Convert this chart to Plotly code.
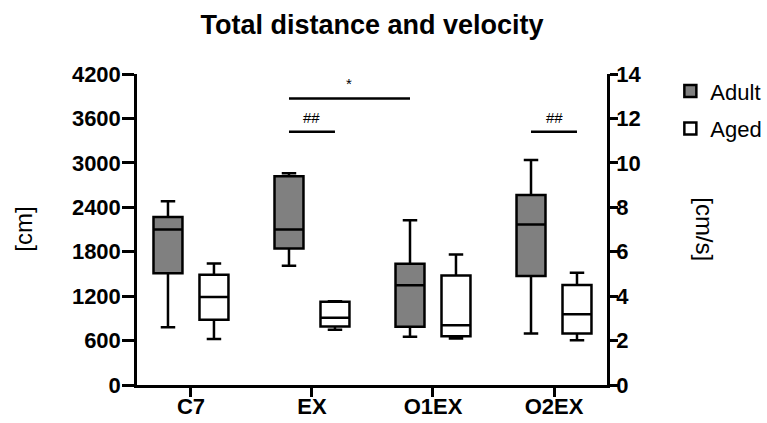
import plotly.graph_objects as go

# ---- data (distance, cm) ----
categories = ["C7", "EX", "O1EX", "O2EX"]
adult_low = [780, 1610, 650, 696]
adult_q1 = [1510, 1845, 785, 1471]
adult_med = [2100, 2100, 1346, 2167]
adult_q3 = [2270, 2820, 1638, 2567]
adult_high = [2480, 2860, 2224, 3038]

aged_low = [620, 746, 628, 606]
aged_q1 = [880, 790, 660, 696]
aged_med = [1190, 907, 808, 956]
aged_q3 = [1490, 1125, 1480, 1350]
aged_high = [1640, 1131, 1763, 1517]

left_ticks = [0, 600, 1200, 1800, 2400, 3000, 3600, 4200]
right_ticks = [0, 2, 4, 6, 8, 10, 12, 14]

# significance brackets: (from category, from group, to category, to group, y, label)
sig_brackets = [
    ("EX", 0, "O1EX", 0, 3870, "*"),
    ("EX", 0, "EX", 1, 3420, "##"),
    ("O2EX", 0, "O2EX", 1, 3420, "##"),
]

FONT = "Liberation Sans, Arial, sans-serif"
BOXGAP = 0.24
BOXGROUPGAP = 0.37
LW = 2.5

fig = go.Figure()
fig.add_trace(go.Box(
    name="Adult", x=categories, q1=adult_q1, median=adult_med, q3=adult_q3,
    lowerfence=adult_low, upperfence=adult_high, boxpoints=False,
    fillcolor="#808080", line=dict(color="black", width=LW), whiskerwidth=0.5,
    legendgroup="a", hoverinfo="skip",
))
fig.add_trace(go.Box(
    name="Aged", x=categories, q1=aged_q1, median=aged_med, q3=aged_q3,
    lowerfence=aged_low, upperfence=aged_high, boxpoints=False,
    fillcolor="white", line=dict(color="black", width=LW), whiskerwidth=0.5,
    legendgroup="b", hoverinfo="skip",
))
# empty trace so the velocity axis (right) is drawn
fig.add_trace(go.Scatter(x=[], y=[], yaxis="y2", showlegend=False, hoverinfo="skip"))

offset = 0.25 * (1 - BOXGAP)
def xpos(cat, grp):
    return categories.index(cat) + (-offset if grp == 0 else offset)

shapes = []
annotations = []
for c0, g0, c1, g1, yv, lab in sig_brackets:
    x0, x1 = xpos(c0, g0), xpos(c1, g1)
    shapes.append(dict(type="line", xref="x", yref="y", x0=x0, x1=x1, y0=yv, y1=yv,
                       line=dict(color="black", width=2.5)))
    annotations.append(dict(x=(x0 + x1) / 2, y=yv, xref="x", yref="y", text=lab,
                            showarrow=False, yanchor="bottom", yshift=4,
                            font=dict(family=FONT, size=15, color="black")))

annotations.append(dict(text="[cm]", xref="paper", yref="paper", x=-0.242, y=0.5,
                        textangle=-90, showarrow=False, xanchor="center", yanchor="middle",
                        font=dict(family=FONT, size=24, color="black")))
annotations.append(dict(text="[cm/s]", xref="paper", yref="paper", x=1.207, y=0.5,
                        textangle=90, showarrow=False, xanchor="center", yanchor="middle",
                        font=dict(family=FONT, size=24, color="black")))

axis_common = dict(showline=True, linecolor="black", linewidth=2.5, ticks="outside",
                   tickcolor="black", tickwidth=2.5, showgrid=False, zeroline=False,
                   automargin=False,
                   tickfont=dict(family=FONT, size=22, color="black", weight="bold"))

fig.update_layout(
    width=767, height=423,
    margin=dict(l=137, r=160, t=74, b=38),
    paper_bgcolor="white", plot_bgcolor="white",
    boxmode="group", boxgap=BOXGAP, boxgroupgap=BOXGROUPGAP,
    title=dict(text="Total distance and velocity", x=0.5, xref="paper", xanchor="center",
               y=0.942, yanchor="middle",
               font=dict(family=FONT, size=27, color="black", weight="bold")),
    xaxis=dict(**axis_common, range=[-0.446, 3.438], ticklen=9, ticklabelstandoff=-9),
    yaxis=dict(**axis_common, range=[0, 4200], tickvals=left_ticks, ticklen=12,
               ticklabelstandoff=-3),
    yaxis2=dict(**axis_common, range=[0, 14], tickvals=right_ticks, ticklen=8,
                ticklabelstandoff=-6, overlaying="y", side="right", anchor="x"),
    legend=dict(xref="container", yref="container", x=0.874, y=0.834,
                xanchor="left", yanchor="top",
                font=dict(family=FONT, size=22, color="black"),
                tracegroupgap=6, bgcolor="rgba(0,0,0,0)"),
    shapes=shapes, annotations=annotations,
)

fig.write_html("out.html", config={"displayModeBar": False},
               post_script="document.body.style.margin='0';document.body.style.overflow='hidden';")
